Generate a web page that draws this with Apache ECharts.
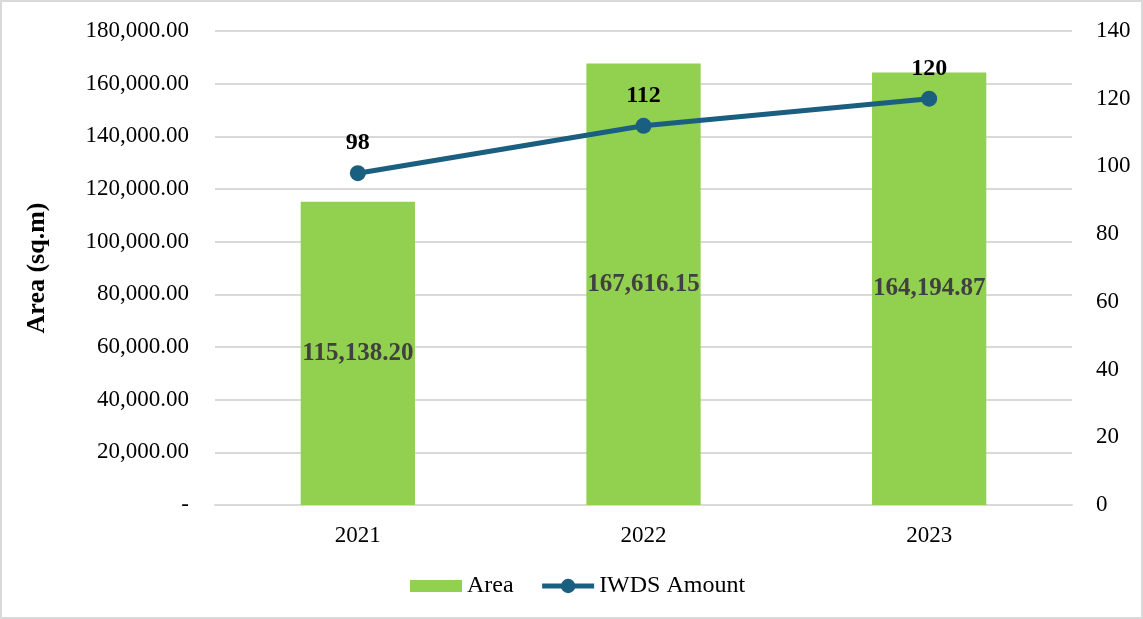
<!DOCTYPE html>
<html>
<head>
<meta charset="utf-8">
<script src="https://cdn.jsdelivr.net/npm/echarts@6/dist/echarts.min.js"></script>
<style>
  html, body { margin: 0; padding: 0; background: #fff; }
  #chart { width: 1139px; height: 615px; border: 2px solid #d9d9d9; }
</style>
</head>
<body>
<div id="chart"></div>
<script>
// data
const years = ["2021", "2022", "2023"];
const areaValues = [115138.2, 167616.15, 164194.87];
const iwdsAmount = [98, 112, 120];

const font = "'Liberation Serif', 'Times New Roman', serif";
const lineColor = "#1a5f7f";

const chart = echarts.init(document.getElementById("chart"));

function fmtArea(v) {
  if (v === 0) return "-";
  return v.toLocaleString("en-US", { minimumFractionDigits: 2, maximumFractionDigits: 2 });
}

const option = {
  animation: false,
  textStyle: { fontFamily: font },
  grid: {
    left: 213,
    right: 69,
    top: 29,
    bottom: 112,
    containLabel: false,
  },
  legend: {
    top: 567,
    left: 403,
    itemGap: 26,
    itemWidth: 52,
    itemHeight: 18,
    textStyle: { fontFamily: font, fontSize: 24, color: "#000" },
    data: [
      { name: "Area", icon: "path://M0,0 L52,0 L52,12 L0,12 Z" },
      { name: "IWDS Amount", lineStyle: { width: 5, color: lineColor } },
    ],
  },
  xAxis: [
    {
      type: "category",
      data: years,
      axisLine: { lineStyle: { color: "#d9d9d9", width: 2 } },
      axisTick: { show: false },
      axisLabel: { fontFamily: font, fontSize: 23, color: "#000", margin: 19 },
    },
  ],
  yAxis: [
    {
      type: "value",
      name: "Area (sq.m)",
      nameLocation: "middle",
      nameGap: 165,
      nameTextStyle: { fontFamily: font, fontSize: 26, fontWeight: "bold", color: "#000" },
      min: 0,
      max: 180000,
      interval: 20000,
      axisLine: { show: false },
      axisTick: { show: false },
      splitLine: { lineStyle: { color: "#d9d9d9", width: 2 } },
      axisLabel: {
        fontFamily: font,
        fontSize: 23,
        color: "#000",
        margin: 26,
        formatter: fmtArea,
      },
    },
    {
      type: "value",
      min: 0,
      max: 140,
      interval: 20,
      axisLine: { show: false },
      axisTick: { show: false },
      splitLine: { show: false },
      axisLabel: { fontFamily: font, fontSize: 23, color: "#000", margin: 24 },
    },
  ],
  series: [
    {
      name: "Area",
      type: "bar",
      data: areaValues,
      barWidth: "40%",
      itemStyle: { color: "#92d050" },
      label: {
        show: true,
        position: "inside",
        fontFamily: font,
        fontSize: 25,
        fontWeight: "bold",
        color: "#404040",
        formatter: (p) => fmtArea(p.value),
      },
    },
    {
      name: "IWDS Amount",
      type: "line",
      yAxisIndex: 1,
      data: iwdsAmount,
      symbol: "circle",
      symbolSize: 16,
      lineStyle: { color: lineColor, width: 5 },
      itemStyle: { color: lineColor },
      label: {
        show: true,
        position: "top",
        distance: 10,
        fontFamily: font,
        fontSize: 24,
        fontWeight: "bold",
        color: "#000",
      },
    },
  ],
};

chart.setOption(option);
</script>
</body>
</html>
